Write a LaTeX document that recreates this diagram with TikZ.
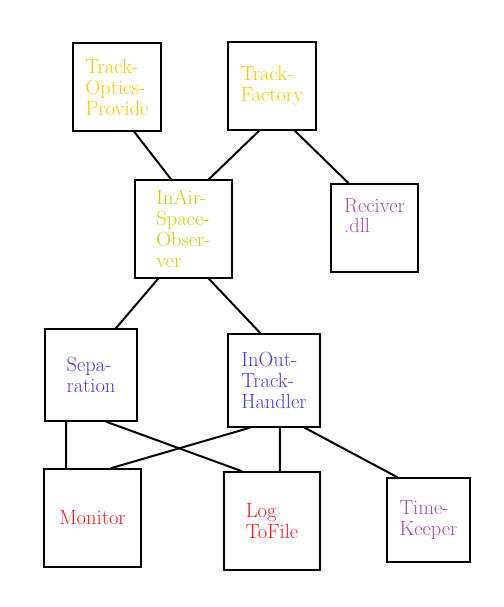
\documentclass[tikz,border=0pt]{standalone}
\usepackage{fontspec}
\definecolor{cgold}{HTML}{FFC400}
\definecolor{clime}{HTML}{ADE010}
\definecolor{cpurple}{HTML}{A848B0}
\definecolor{cblue}{HTML}{4040D8}
\definecolor{cred}{HTML}{F01820}
\tikzset{
  box/.style={rectangle,draw,line width=1.2pt,align=left,inner sep=2pt,
    font=\fontsize{17.5}{17.9}\selectfont},
  link/.style={line width=1.7pt}
}
\begin{document}
\begin{tikzpicture}[x=0.03cm,y=-0.03cm]
                    \useasboundingbox (0,0) rectangle (504,607);
                    %NODE
                    \node[box,minimum width=88*0.03cm,minimum height=88*0.03cm,text=cgold] (TO) at (117,87){Track-\\Optics-\\Provide};
                    \node[box,minimum width=88*0.03cm,minimum height=88*0.03cm,text=cgold] (TF) at (272,86){Track-\\Factory};
                    \node[box,minimum width=97*0.03cm,minimum height=98*0.03cm,text=clime] (IA) at (183.5,229){InAir-\\Space-\\Obser-\\ver};
                    \node[box,minimum width=87*0.03cm,minimum height=88*0.03cm,text=cpurple,text depth=0.75cm] (RC) at (374.5,228){Reciver\\.dll};
                    \node[box,minimum width=92*0.03cm,minimum height=92*0.03cm,text=cblue] (SP) at (91,375){Sepa-\\ration};
                    \node[box,minimum width=92*0.03cm,minimum height=93*0.03cm,text=cblue] (IO) at (274,380.5){InOut-\\Track-\\Handler};
                    \node[box,minimum width=97*0.03cm,minimum height=98*0.03cm,text=cred] (MO) at (92.5,518){Monitor};
                    \node[box,minimum width=96*0.03cm,minimum height=98*0.03cm,text=cred] (LF) at (272,521){Log\\ToFile};
                    \node[box,minimum width=83*0.03cm,minimum height=84*0.03cm,text=cpurple] (TK) at (428.5,520){Time-\\Keeper};

                    %EDGE
                    \draw[link] (TO.-69) -- (IA.104);
                    \draw[link] (TF.-106) -- (IA.63);
                    \draw[link] (TF.-63) -- (RC.120);
                    \draw[link] (IA.-117) -- (SP.62);
                    \draw[link] (IA.-63) -- (IO.106);
                    \draw[link] (SP.-118) -- (MO.118);
                    \draw[link] (SP.-72) -- (LF.121);
                    \draw[link] (IO.-117) -- (MO.70);
                    \draw[link] (IO.-83) -- (LF.81);
                    \draw[link] (IO.-57) -- (TK.126);
                \end{tikzpicture}
\end{document}
